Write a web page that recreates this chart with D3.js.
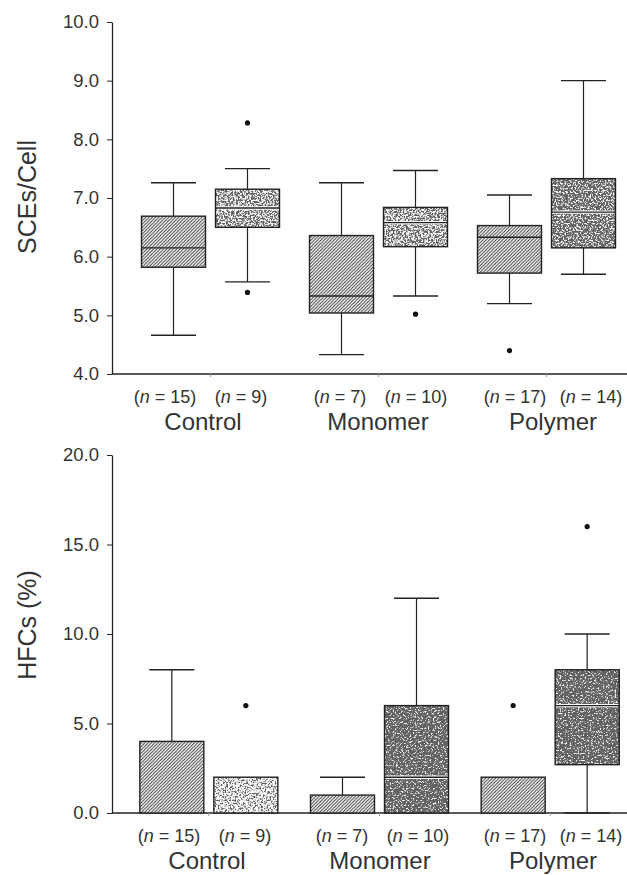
<!DOCTYPE html>
<html lang="en">
<head>
<meta charset="utf-8">
<script src="https://cdn.jsdelivr.net/npm/d3@7"></script>
<style>
  body { margin: 0; background: #fff; }
  text { font-family: "Liberation Sans", Arial, sans-serif; fill: #333; }
</style>
</head>
<body>
<svg id="chart" width="627" height="875"></svg>
<script>
// groups and sample sizes
var groups = ["Control", "Monomer", "Polymer"];
var nCounts = [15, 9, 7, 10, 17, 14];

// SCEs/Cell box stats (per box: control hatched, control dotted, monomer ..., polymer ...)
var sceMin = [4.66, 5.57, 4.33, 5.33, 5.20, 5.70];
var sceQ1  = [5.82, 6.50, 5.04, 6.17, 5.72, 6.15];
var sceMed = [6.15, 6.83, 5.33, 6.58, 6.33, 6.76];
var sceQ3  = [6.69, 7.15, 6.36, 6.84, 6.53, 7.33];
var sceMax = [7.26, 7.50, 7.26, 7.47, 7.05, 9.00];
var sceOut = [[], [8.28, 5.39], [], [5.02], [4.40], []];
var sceTicks = [4, 5, 6, 7, 8, 9, 10];

// HFCs (%) box stats
var hfcMin = [0, 0, 0, 0, 0, 0];
var hfcQ1  = [0, 0, 0, 0, 0, 2.7];
var hfcMed = [0, 0, 0, 2, 0, 6];
var hfcQ3  = [4, 2, 1, 6, 2, 8];
var hfcMax = [8, 2, 2, 12, 2, 10];
var hfcOut = [[], [6], [], [], [6], [16]];
var hfcTicks = [0, 5, 10, 15, 20];

// fill style per box: hatch, or stipple of some darkness
var sceFill = ["hatch", "stip1", "hatch", "stip1", "hatch", "stip2"];
var hfcFill = ["hatch", "stip0", "hatch", "stip3", "hatch", "stip3"];

var svg = d3.select("#chart");
var defs = svg.append("defs");

var hp = defs.append("pattern").attr("id", "hatch")
  .attr("patternUnits", "userSpaceOnUse").attr("width", 3.3).attr("height", 3.3);
hp.append("rect").attr("width", 3.3).attr("height", 3.3).attr("fill", "#fff");
hp.append("path").attr("d", "M0,3.3L3.3,0M-1,1L1,-1M2.3,4.3L4.3,2.3")
  .attr("stroke", "#2a2a2a").attr("stroke-width", 0.9);

// stipple filters: noise -> alpha, over white
function stipple(id, k, off, seed) {
  var f = defs.append("filter").attr("id", id)
    .attr("x", 0).attr("y", 0).attr("width", 1).attr("height", 1);
  f.append("feTurbulence").attr("type", "fractalNoise").attr("baseFrequency", 0.6)
    .attr("numOctaves", 2).attr("seed", seed).attr("result", "n");
  f.append("feColorMatrix").attr("in", "n").attr("type", "matrix")
    .attr("values", "0 0 0 0 0.12 0 0 0 0 0.12 0 0 0 0 0.12 " + k + " 0 0 0 " + off)
    .attr("result", "a");
  f.append("feFlood").attr("flood-color", "#fff").attr("result", "w");
  f.append("feComposite").attr("in", "a").attr("in2", "w").attr("operator", "over");
}
stipple("stip0", 5, -2.2, 2);
stipple("stip1", 5.5, -2.1, 5);
stipple("stip2", 5.5, -1.8, 7);
stipple("stip3", 5.5, -1.45, 11);

function panel(o) {
  var y = d3.scaleLinear().domain(o.domain).range([o.y1, o.y0]);
  var gx = d3.scaleBand().domain(groups).range(o.xr).padding(0);
  var sub = d3.scalePoint().domain([0, 1]).range([-37, 37]);
  // labels sit on their own slightly shifted positions
  var lx = d3.scalePoint().domain(groups).range(o.lr);
  var bw = 64, cw = 45;
  var cx = function(i) {
    return gx(groups[Math.floor(i / 2)]) + gx.bandwidth() / 2 + sub(i % 2);
  };
  var g = svg.append("g");

  // y axis
  g.append("g").attr("transform", "translate(112,0)")
    .call(d3.axisLeft(y).tickValues(o.ticks).tickFormat(d3.format(".1f")).tickSize(5).tickSizeOuter(0))
    .call(function(a) {
      a.select(".domain").attr("stroke", "#222").attr("stroke-width", 1.3);
      a.selectAll(".tick line").attr("stroke", "#222");
      a.selectAll(".tick text").attr("x", -13).attr("font-size", 18.5).attr("fill", "#333")
        .style("font-family", "Liberation Sans, Arial, sans-serif");
    });

  // x axis
  g.append("line").attr("x1", 112).attr("x2", 627).attr("y1", o.y1).attr("y2", o.y1)
    .attr("stroke", "#222").attr("stroke-width", 1.3);
  g.append("g").attr("transform", "translate(0," + o.y1 + ")")
    .call(d3.axisBottom(gx).tickSize(3).tickFormat(""))
    .call(function(a) {
      a.select(".domain").remove();
      a.selectAll(".tick line").attr("stroke", "#999");
    });

  var idx = d3.range(6);
  var bx = g.selectAll(".box").data(idx).enter().append("g");

  // whiskers
  bx.append("line").attr("x1", cx).attr("x2", cx)
    .attr("y1", function(i) { return y(o.q3[i]); }).attr("y2", function(i) { return y(o.max[i]); })
    .attr("stroke", "#222").attr("stroke-width", 1.2);
  bx.append("line").attr("x1", cx).attr("x2", cx)
    .attr("y1", function(i) { return y(o.q1[i]); }).attr("y2", function(i) { return y(o.min[i]); })
    .attr("stroke", "#222").attr("stroke-width", 1.2);
  bx.filter(function(i) { return o.max[i] > o.q3[i]; }).append("line")
    .attr("x1", function(i) { return cx(i) - cw / 2; }).attr("x2", function(i) { return cx(i) + cw / 2; })
    .attr("y1", function(i) { return y(o.max[i]); }).attr("y2", function(i) { return y(o.max[i]); })
    .attr("stroke", "#222").attr("stroke-width", 1.4);
  bx.filter(function(i) { return o.min[i] < o.q1[i]; }).append("line")
    .attr("x1", function(i) { return cx(i) - cw / 2; }).attr("x2", function(i) { return cx(i) + cw / 2; })
    .attr("y1", function(i) { return y(o.min[i]); }).attr("y2", function(i) { return y(o.min[i]); })
    .attr("stroke", "#222").attr("stroke-width", 1.4);

  // box fills
  bx.append("rect")
    .attr("x", function(i) { return cx(i) - bw / 2; }).attr("width", bw)
    .attr("y", function(i) { return y(o.q3[i]); })
    .attr("height", function(i) { return y(o.q1[i]) - y(o.q3[i]); })
    .attr("fill", function(i) { return o.fill[i] == "hatch" ? "url(#hatch)" : "#fff"; })
    .attr("filter", function(i) { return o.fill[i] == "hatch" ? null : "url(#" + o.fill[i] + ")"; });
  bx.append("rect")
    .attr("x", function(i) { return cx(i) - bw / 2; }).attr("width", bw)
    .attr("y", function(i) { return y(o.q3[i]); })
    .attr("height", function(i) { return y(o.q1[i]) - y(o.q3[i]); })
    .attr("fill", "none").attr("stroke", "#222").attr("stroke-width", 1.4);

  // medians
  var md = bx.filter(function(i) { return o.med[i] > o.q1[i]; });
  md.filter(function(i) { return o.fill[i] != "hatch"; }).append("line")
    .attr("x1", function(i) { return cx(i) - bw / 2 + 1; }).attr("x2", function(i) { return cx(i) + bw / 2 - 1; })
    .attr("y1", function(i) { return y(o.med[i]); }).attr("y2", function(i) { return y(o.med[i]); })
    .attr("stroke", "#fff").attr("stroke-width", 3.4);
  md.append("line")
    .attr("x1", function(i) { return cx(i) - bw / 2; }).attr("x2", function(i) { return cx(i) + bw / 2; })
    .attr("y1", function(i) { return y(o.med[i]); }).attr("y2", function(i) { return y(o.med[i]); })
    .attr("stroke", "#222").attr("stroke-width", 1.4);

  // outliers
  bx.selectAll("circle").data(function(i) { return o.out[i].map(function(v) { return [i, v]; }); })
    .enter().append("circle")
    .attr("cx", function(d) { return cx(d[0]); }).attr("cy", function(d) { return y(d[1]); })
    .attr("r", 2.6).attr("fill", "#111");

  // n labels
  var nl = g.selectAll(".nl").data(idx).enter().append("text")
    .attr("x", function(i) { return lx(groups[Math.floor(i / 2)]) + (i % 2 ? 38 : -38); })
    .attr("y", o.y1 + 29).attr("text-anchor", "middle").attr("font-size", 18);
  nl.append("tspan").text("(");
  nl.append("tspan").attr("font-style", "italic").text("n");
  nl.append("tspan").text(function(i) { return " = " + nCounts[i] + ")"; });

  // group labels
  g.selectAll(".gl").data(groups).enter().append("text")
    .attr("x", function(d) { return lx(d); })
    .attr("y", o.y1 + 56).attr("text-anchor", "middle").attr("font-size", 24)
    .text(function(d) { return d; });

  // y label
  g.append("text").attr("transform", "translate(36," + o.ly + ") rotate(-90)")
    .attr("text-anchor", "middle").attr("font-size", 25).text(o.label);
}

panel({ domain: [4, 10], y0: 22, y1: 374, xr: [126.5, 630.5], lr: [203, 553], ticks: sceTicks,
  min: sceMin, q1: sceQ1, med: sceMed, q3: sceQ3, max: sceMax, out: sceOut, fill: sceFill,
  label: "SCEs/Cell", ly: 197 });
panel({ domain: [0, 20], y0: 455, y1: 813, xr: [123.5, 635.5], lr: [207, 553], ticks: hfcTicks,
  min: hfcMin, q1: hfcQ1, med: hfcMed, q3: hfcQ3, max: hfcMax, out: hfcOut, fill: hfcFill,
  label: "HFCs (%)", ly: 625 });
</script>
</body>
</html>
